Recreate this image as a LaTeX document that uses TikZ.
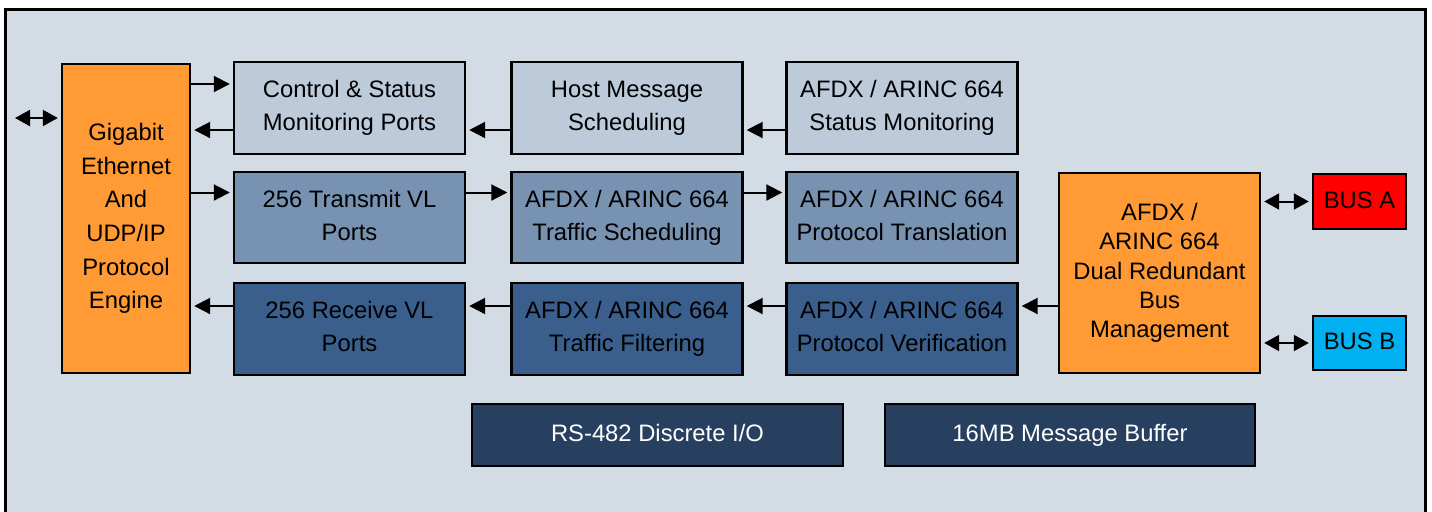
\documentclass[tikz,border=0pt]{standalone}
\usepackage{fontspec}
\setmainfont{Liberation Sans}
\usetikzlibrary{arrows.meta}
\definecolor{bgc}{HTML}{D3DCE5}
\definecolor{rowa}{HTML}{BCCADA}
\definecolor{rowb}{HTML}{7892B2}
\definecolor{rowc}{HTML}{3B5F8C}
\definecolor{rowd}{HTML}{27405F}
\definecolor{orng}{HTML}{FF9A35}
\definecolor{busred}{HTML}{FF0000}
\definecolor{busblue}{HTML}{00B0F0}
\tikzset{
  blk/.style={draw=black, line width=1.2pt, align=center, inner sep=0pt,
    font=\fontsize{11.9pt}{16.5pt}\selectfont},
  sline/.style={execute at begin node={\strut}},
  mline/.style 2 args={execute at begin node={\rule{0pt}{#1}},
    execute at end node={\rule[-#2]{0pt}{#2}}},
  wide/.style={minimum width=115.5pt, minimum height=46pt, mline={12.5pt}{2.4pt}},
  arr/.style={line width=1pt, -{Triangle[length=8pt,width=8pt]}, shorten >=1.5pt},
  darr/.style={line width=1pt, {Triangle[length=7.5pt,width=8pt]}-{Triangle[length=7.5pt,width=8pt]}, shorten >=1.5pt, shorten <=1.5pt},
}
\begin{document}
\begin{tikzpicture}[x=0.5pt,y=-0.5pt]
\useasboundingbox (0,0) rectangle (1432,511);
\clip (0,0) rectangle (1432,511);
\draw[line width=1.5pt, fill=bgc] (5,9) rectangle (1425,530);

\node[blk, fill=orng, minimum width=64pt, minimum height=154.5pt,
  font=\fontsize{11.9pt}{16.8pt}\selectfont, mline={12.7pt}{2.2pt}] (gig) at (126,218.5)
  {Gigabit\\Ethernet\\And\\UDP/IP\\Protocol\\Engine};

\node[blk, wide, fill=rowa] (ctrl) at (349.5,108) {Control \& Status\\Monitoring Ports};
\node[blk, wide, fill=rowa] (host) at (627,108) {Host Message\\Scheduling};
\node[blk, wide, fill=rowa] (stat) at (902,108) {AFDX / ARINC 664\\Status Monitoring};

\node[blk, wide, fill=rowb, minimum height=45.5pt] (tx) at (349.5,217.5) {256 Transmit VL\\Ports};
\node[blk, wide, fill=rowb, minimum height=45.5pt] (tsch) at (627,217.5) {AFDX / ARINC 664\\Traffic Scheduling};
\node[blk, wide, fill=rowb, minimum height=45.5pt] (ptr) at (902,217.5) {AFDX / ARINC 664\\Protocol Translation};

\node[blk, wide, fill=rowc] (rx) at (349.5,329) {256 Receive VL\\Ports};
\node[blk, wide, fill=rowc] (tfil) at (627,329) {AFDX / ARINC 664\\Traffic Filtering};
\node[blk, wide, fill=rowc] (pver) at (902,329) {AFDX / ARINC 664\\Protocol Verification};

\node[blk, fill=orng, minimum width=100.5pt, minimum height=100pt,
  font=\fontsize{11.9pt}{14.6pt}\selectfont, mline={10.6pt}{2.6pt}] (bus) at (1159.5,273)
  {AFDX /\\ARINC 664\\Dual Redundant\\Bus\\Management};

\node[blk, sline, fill=busred, minimum width=46.5pt, minimum height=27.5pt] (busa) at (1359.5,201.5) {BUS A};
\node[blk, sline, fill=busblue, minimum width=46.5pt, minimum height=27pt] (busb) at (1359.5,343) {BUS B};

\node[blk, sline, fill=rowd, text=white, minimum width=185.5pt, minimum height=31pt] (rs) at (657.5,435) {RS-482 Discrete I/O};
\node[blk, sline, fill=rowd, text=white, minimum width=185pt, minimum height=31pt] (mb) at (1070,435) {16MB Message Buffer};

% connectors
\coordinate (ext) at (15,118);
\draw[darr, shorten <=0pt] (ext) -- (ext -| gig.west);

\coordinate (c1) at ([yshift=12pt]ctrl.west);
\coordinate (c2) at ([yshift=-11pt]ctrl.west);
\draw[arr] (c1 -| gig.east) -- (c1);
\draw[arr] (c2) -- (c2 -| gig.east);
\draw[arr] ([yshift=-11pt]host.west) -- ([yshift=-11pt]ctrl.east);
\draw[arr] ([yshift=-11pt]stat.west) -- ([yshift=-11pt]host.east);

\coordinate (t1) at ([yshift=12.5pt]tx.west);
\draw[arr] (t1 -| gig.east) -- (t1);
\draw[arr] ([yshift=12.5pt]tx.east) -- ([yshift=12.5pt]tsch.west);
\draw[arr] ([yshift=12.5pt]tsch.east) -- ([yshift=12.5pt]ptr.west);

\coordinate (r1) at ([yshift=11.5pt]rx.west);
\coordinate (v1) at ([yshift=11.5pt]pver.east);
\draw[arr] (r1) -- (r1 -| gig.east);
\draw[arr] ([yshift=11.5pt]tfil.west) -- ([yshift=11.5pt]rx.east);
\draw[arr] ([yshift=11.5pt]pver.west) -- ([yshift=11.5pt]tfil.east);
\draw[arr] (v1 -| bus.west) -- (v1);

\draw[darr] (busa.west -| bus.east) -- (busa.west);
\draw[darr] (busb.west -| bus.east) -- (busb.west);
\end{tikzpicture}
\end{document}
